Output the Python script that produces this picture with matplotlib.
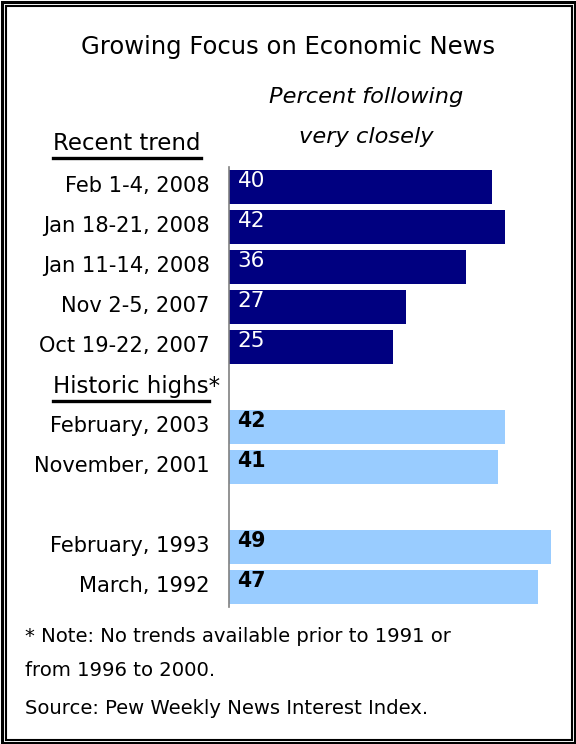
import matplotlib
matplotlib.use("Agg")
import matplotlib.pyplot as plt
from matplotlib.lines import Line2D
from matplotlib.patches import Rectangle

W, H = 576, 744

TITLE = "Growing Focus on Economic News"
SUBTITLE = ["Percent following", "very closely"]

recent_labels = ["Feb 1-4, 2008", "Jan 18-21, 2008", "Jan 11-14, 2008",
                 "Nov 2-5, 2007", "Oct 19-22, 2007"]
recent_values = [40, 42, 36, 27, 25]
recent_rows = [0, 1, 2, 3, 4]

historic_labels = ["February, 2003", "November, 2001",
                   "February, 1993", "March, 1992"]
historic_values = [42, 41, 49, 47]
historic_rows = [6, 7, 9, 10]

notes = ["* Note: No trends available prior to 1991 or",
         "from 1996 to 2000.",
         "Source: Pew Weekly News Interest Index."]

DARK = "#000080"
LIGHT = "#99ccff"
FONT = "DejaVu Sans"

plt.rcParams["font.family"] = FONT


def fx(px):
    return px / W


def fy(px):
    return 1 - px / H


fig = plt.figure(figsize=(W / 100, H / 100), dpi=100)

# double frame round the whole graphic
fig.patches.append(Rectangle((fx(1.5), fy(742.5)), fx(573), 741 / H,
                             transform=fig.transFigure, fill=False,
                             lw=2.2, ec="black"))
fig.patches.append(Rectangle((fx(6), fy(740)), fx(566), 734 / H,
                             transform=fig.transFigure, fill=False,
                             lw=1.5, ec="black"))

# bars area: x from 229px, 6.57px per point; rows 40px apart from 167px
ax = fig.add_axes([fx(229), fy(607), fx(6.57 * 50), 440 / H])
ax.set_xlim(0, 50)
ax.set_ylim(10.5, -0.5)

ax.barh(recent_rows, recent_values, height=0.85, color=DARK)
ax.barh(historic_rows, historic_values, height=0.85, color=LIGHT)

for r, v in zip(recent_rows, recent_values):
    ax.text(1.3, r - 0.14, str(v), color="white", fontsize=15.5,
            ha="left", va="center")
for r, v in zip(historic_rows, historic_values):
    ax.text(1.3, r - 0.14, str(v), color="black", fontsize=14.8,
            fontweight="bold", ha="left", va="center")

ax.set_yticks([r - 0.08 for r in recent_rows + historic_rows])
ax.set_yticklabels(recent_labels + historic_labels, fontsize=15.1)
ax.tick_params(axis="y", length=0, pad=14)
ax.set_xticks([])
for side in ["top", "right", "bottom"]:
    ax.spines[side].set_visible(False)
ax.spines["left"].set_color("#808080")
ax.spines["left"].set_linewidth(1.2)

fig.text(0.5, fy(47), TITLE, ha="center", va="center", fontsize=17.5)
for line, y in zip(SUBTITLE, [97, 137]):
    fig.text(fx(366), fy(y), line, ha="center", va="center",
             fontsize=16.2, style="italic")

# section headings with underline (underline stops before the asterisk)
headings = [("Recent trend", 143, 158), ("Historic highs*", 387, 401)]
fig.canvas.draw()
renderer = fig.canvas.get_renderer()
for text, y, uy in headings:
    t = fig.text(fx(53), fy(y), text, ha="left", va="center", fontsize=16.5)
    bb = t.get_window_extent(renderer)
    x0, x1 = bb.x0 / W, bb.x1 / W
    if text.endswith("*"):
        x1 = x1 - 11 / W
    fig.lines.append(Line2D([x0, x1], [fy(uy), fy(uy)],
                            transform=fig.transFigure, color="black", lw=2.4))

for line, y in zip(notes, [637, 671, 708]):
    fig.text(fx(25), fy(y), line, ha="left", va="center", fontsize=14.1)

fig.savefig("out.png", dpi=100)
